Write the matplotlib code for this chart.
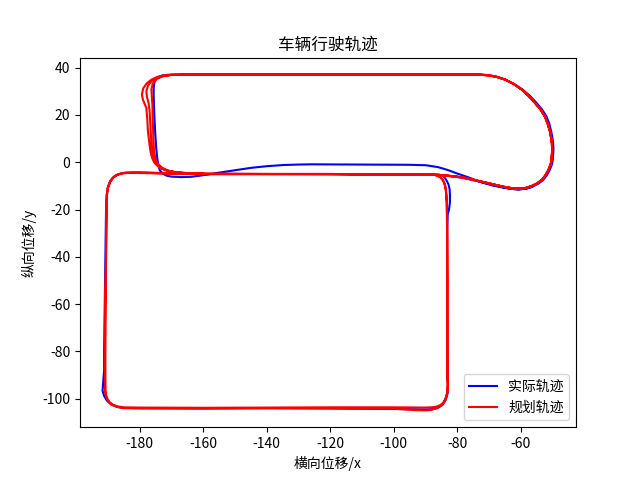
import numpy as np
import matplotlib
matplotlib.use('Agg')
import matplotlib.pyplot as plt

plt.rcParams['font.family'] = ['Noto Sans CJK SC', 'DejaVu Sans']
plt.rcParams['axes.unicode_minus'] = False

# ---- planned trajectory (red) pieces ----
# middle road -> right hairpin -> top road
red_right_x = [-160, -140, -120, -100, -88.8, -83, -78.4, -74, -70.1, -67.3, -64.9, -62.7, -60.7,
               -58.5, -56.6, -54.8, -53.4, -52.2, -51.3, -50.6, -50.3, -50.1, -50.2, -50.4, -50.8,
               -51.5, -52.4, -53.8, -55.5, -57.5, -59.7, -62.2, -64.9, -67.5, -70.1, -73.2, -80,
               -100, -130, -165]
red_right_y = [-5.0, -5.0, -5.0, -5.1, -5.2, -5.7, -6.4, -7.7, -8.9, -9.8, -10.5, -11.0, -11.2,
               -10.9, -10.1, -8.9, -7.5, -5.5, -3.3, -1.0, 1.0, 5.2, 8, 10, 13,
               16.2, 19.3, 22.3, 25.0, 28.0, 30.7, 33.0, 34.9, 36.0, 36.7, 37.0, 37.1,
               37.0, 37.0, 37.0]

# three passes through the upper-left bend
red_bend1_x = [-165, -170, -172.2, -174.5, -176.3, -177.8, -178.9, -179.3, -179.0, -178.4, -177.9,
               -177.6, -177.4, -177.0, -176.6, -176.1, -175.3, -173.9, -172.2, -169.8, -167, -163, -158]
red_bend1_y = [37.0, 36.9, 36.7, 36.0, 34.9, 33.3, 31.2, 28.5, 26.5, 24.6, 22.9,
               18, 13, 8.5, 4.5, 1.8, -0.4, -2.1, -3.3, -4.0, -4.4, -4.7, -4.9]
red_bend2_x = [-165, -170, -172.5, -174.5, -176.2, -177.4, -177.9, -177.7, -177.2, -176.9, -176.7,
               -176.5, -176.3, -176.0, -175.5, -174.6, -173.2, -171.3, -168.8, -165, -160]
red_bend2_y = [37.0, 36.9, 36.5, 35.7, 34.3, 32.3, 30.0, 27.5, 25, 22, 17,
               12, 7.5, 4, 1.2, -0.9, -2.5, -3.6, -4.3, -4.7, -4.9]
red_bend3_x = [-165, -170, -172.8, -174.7, -175.9, -176.3, -176.2, -176.0, -175.9, -175.8, -175.7,
               -175.5, -175.1, -174.3, -173, -171.2, -168.8, -165, -160]
red_bend3_y = [37.0, 36.9, 36.3, 35.1, 33.2, 30.8, 28, 24, 20, 15, 10,
               5, 1.8, -0.6, -2.3, -3.5, -4.3, -4.7, -4.9]

# two laps of the lower block
red_low1_x = [-158, -140, -120, -100, -90, -87.3, -85.8, -84.7, -84.0, -83.6, -83.4, -83.3, -83.2,
              -83.2, -83.2, -83.2, -83.1, -83.1, -83.5, -84.2, -85.2, -86.5, -88.2, -90, -100,
              -120, -140, -160, -180, -185.2, -187, -188.4, -189.5, -190.2, -190.6, -190.8, -190.8,
              -190.7, -190.6, -190.5, -190.4, -190.1, -189.4, -188.5, -187.3, -185.5, -183, -175,
              -165, -160]
red_low1_y = [-4.9, -5.0, -5.0, -5.1, -5.1, -5.2, -5.9, -7.2, -9.0, -11.4, -14, -17.1, -30,
              -50, -70, -90, -93.5, -96.6, -99.3, -101.3, -102.6, -103.3, -103.6, -103.7, -103.6,
              -103.6, -103.7, -103.8, -103.7, -103.6, -103.2, -102.5, -101.4, -100.0, -98.5, -96.6, -80,
              -60, -40, -20, -14, -11, -8.3, -6.6, -5.4, -4.7, -4.5, -4.7,
              -4.9, -5.0]
red_low2_x = [-158, -140, -120, -100, -90, -87.0, -85.4, -84.4, -83.8, -83.5, -83.3, -83.1, -83.0,
              -83.0, -83.0, -82.9, -83.1, -83.7, -84.8, -86.3, -88.2, -90, -93, -100,
              -120, -140, -160, -180, -185, -186.9, -188.5, -189.6, -190.3, -190.7, -190.9, -191.0,
              -190.9, -190.6, -190.4, -190.3, -190.0, -189.3, -188.3, -187.0, -185, -182, -175,
              -165, -160]
red_low2_y = [-4.9, -5.0, -5.1, -5.2, -5.2, -5.4, -6.3, -7.8, -10.0, -13, -17, -30, -50,
              -70, -90, -94, -97.5, -100.3, -102.5, -103.9, -104.7, -104.9, -104.8, -104.2,
              -104.0, -103.9, -104.1, -104.0, -103.9, -103.5, -102.7, -101.6, -100.1, -98.4, -96.6, -80,
              -60, -40, -20, -14, -11, -8.4, -6.5, -5.3, -4.6, -4.4, -4.6,
              -4.9, -5.0]

# ---- actual trajectory (blue) pieces ----
blue_low_x = [-175, -160, -140, -120, -100, -90, -85.8, -84.5, -83.6, -82.8, -82.4, -82.3, -82.3,
              -82.6, -83.0, -83.2, -83.2, -83.1, -83.0, -82.9, -83.0, -83.6, -84.6, -86.0, -88,
              -90, -100, -120, -140, -160, -180, -185, -187.2, -189, -190.3, -191.2, -191.7,
              -191.5, -191.2, -191.2, -191.0, -190.8, -190.6, -190.4, -190.0, -189.3, -188.2,
              -186.6, -184.5, -180, -175, -165, -160]
blue_low_y = [-4.6, -5.0, -5.0, -5.0, -5.1, -5.1, -5.2, -5.8, -7.2, -9.2, -11.4, -14, -17,
              -20, -22, -30, -50, -70, -90, -94, -97.5, -100.4, -102.5, -103.8, -104.4,
              -104.5, -104.3, -104.1, -104.0, -104.1, -104.0, -103.9, -103.4, -102.4, -100.8, -98.8, -96.6,
              -93, -88, -80, -60, -40, -20, -14, -10.5, -8.0, -6.2,
              -5.0, -4.4, -4.3, -4.5, -4.8, -5.0]
blue_right_x = [-160, -140, -120, -100, -88.8, -83, -78.4, -74, -70.1, -67.3, -64.9, -62.7, -60.7,
                -58.4, -56.4, -54.5, -53.0, -51.8, -50.9, -50.2, -49.9, -49.7, -49.8, -50.0, -50.4,
                -51.0, -51.9, -53.3, -55.0, -57.1, -59.4, -62.0, -64.8, -67.5, -70.1, -73.2, -80,
                -100, -130, -165]
blue_right_y = [-5.0, -5.0, -5.0, -5.1, -5.2, -5.8, -6.6, -7.9, -9.2, -10.1, -10.8, -11.3, -11.5,
                -11.2, -10.4, -9.1, -7.6, -5.6, -3.4, -1.0, 1.0, 5.2, 8, 10, 13,
                16.2, 19.3, 22.3, 25.0, 28.0, 30.7, 33.0, 34.9, 36.1, 36.8, 37.1, 37.1,
                37.0, 37.0, 37.0]
blue_bend_x = [-165, -170, -172.5, -174.3, -175.3, -175.6, -175.6, -175.4, -175.1, -174.8, -174.5,
               -174.2, -173.7, -172.8, -171.5, -170, -167, -164, -161, -158, -155.4, -152, -148,
               -145, -140, -134.8, -130, -126, -110, -95, -89.8, -86, -83, -80.4, -76.5, -73,
               -69, -65, -62.7, -60.7, -58.4, -56.4]
blue_bend_y = [37.0, 37.0, 36.8, 36.0, 34.3, 31.5, 28, 20, 12, 6, 2,
               -1, -3.3, -4.8, -5.7, -6.1, -6.3, -6.2, -5.7, -5.1, -4.5, -3.8, -3.0,
               -2.4, -1.7, -1.2, -1.0, -0.9, -1.0, -1.1, -1.3, -2.1, -3.3, -4.6, -6.4, -8.2,
               -9.8, -10.9, -11.3, -11.5, -11.2, -10.4]


def plot_trajectory():
    """Draw actual vs planned vehicle path and save it as out.png."""
    actual_x = np.concatenate([blue_low_x, blue_right_x, blue_bend_x])
    actual_y = np.concatenate([blue_low_y, blue_right_y, blue_bend_y])
    plan_x = np.concatenate([red_right_x, red_bend1_x, red_low1_x, red_right_x,
                             red_bend2_x, red_low2_x, red_right_x, red_bend3_x])
    plan_y = np.concatenate([red_right_y, red_bend1_y, red_low1_y, red_right_y,
                             red_bend2_y, red_low2_y, red_right_y, red_bend3_y])

    fig, ax = plt.subplots(figsize=(6.4, 4.8), dpi=100)
    ax.plot(actual_x, actual_y, color='blue', label='实际轨迹')
    ax.plot(plan_x, plan_y, color='red', label='规划轨迹')

    ax.set_title('车辆行驶轨迹')
    ax.set_xlabel('横向位移/x')
    ax.set_ylabel('纵向位移/y')
    ax.legend(loc='lower right')

    fig.savefig('out.png', dpi=100)
    plt.close(fig)


plot_trajectory()
